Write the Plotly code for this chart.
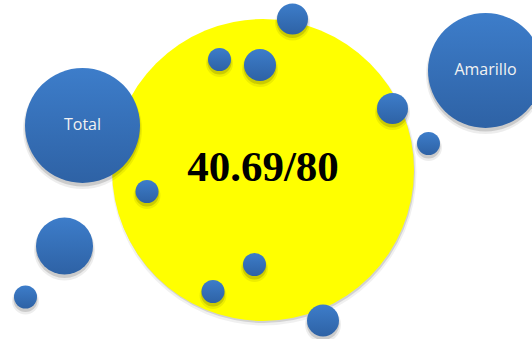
import plotly.graph_objects as go

# Big yellow circle (score)
score_text = "40.69/80"
score_x = [263]
score_y = [170]
score_d = [302]

# Blue bubbles: centre (x, y) in pixel-like coords and diameters
bubble_x = [82.5, 485.5, 219.5, 260, 292.5, 392.5, 428.5, 147, 64.5, 25.5, 213, 254.5, 323]
bubble_y = [125.5, 70.5, 59.5, 65, 19, 108.5, 143.5, 191.5, 246, 297, 291.5, 264.5, 320.5]
bubble_d = [115, 115, 23, 32, 31, 31, 23, 23, 57, 23, 23, 23, 32]
bubble_labels = ["Total", "Amarillo", "", "", "", "", "", "", "", "", "", "", ""]

fig = go.Figure()

def shadow(xs, ys, ds, dy, grow, alpha):
    return go.Scatter(
        x=xs, y=[v + dy for v in ys], mode="markers",
        marker=dict(size=[d + grow for d in ds], color=f"rgba(0,0,0,{alpha})",
                    opacity=1, line=dict(width=0)),
        hoverinfo="skip", showlegend=False)

# yellow shadow
fig.add_trace(shadow([v + 1 for v in score_x], score_y, score_d, 3, 3, 0.06))
fig.add_trace(shadow([v + 1 for v in score_x], score_y, score_d, 2, 0, 0.12))
fig.add_trace(go.Scatter(
    x=score_x, y=score_y, mode="markers+text", text=[score_text],
    textposition="middle center",
    textfont=dict(family="Liberation Serif", size=43, color="#000000", weight="bold"),
    marker=dict(size=score_d, color="#FFFF00", opacity=1, line=dict(width=0)),
    hoverinfo="skip", showlegend=False))

# blue shadows
fig.add_trace(shadow(bubble_x, bubble_y, bubble_d, 4, 4, 0.07))
fig.add_trace(shadow(bubble_x, bubble_y, bubble_d, 3, 1, 0.14))
fig.add_trace(go.Scatter(
    x=bubble_x, y=bubble_y, mode="markers+text", text=bubble_labels,
    textposition="middle center",
    textfont=dict(family="Open Sans", size=16, color="#F2F2F2"),
    marker=dict(size=bubble_d, color="#3D7DCA", opacity=1, line=dict(width=0),
                gradient=dict(type="vertical", color="#2E62A5")),
    hoverinfo="skip", showlegend=False))

fig.update_layout(
    width=532, height=339,
    margin=dict(l=0, r=0, t=0, b=0),
    paper_bgcolor="white", plot_bgcolor="white",
    xaxis=dict(range=[0, 532], visible=False, fixedrange=True),
    yaxis=dict(range=[339, 0], visible=False, fixedrange=True),
    showlegend=False,
)
fig.write_html("out.html", config={"displayModeBar": False},
               post_script="document.body.style.margin='0';document.body.style.overflow='hidden';")
